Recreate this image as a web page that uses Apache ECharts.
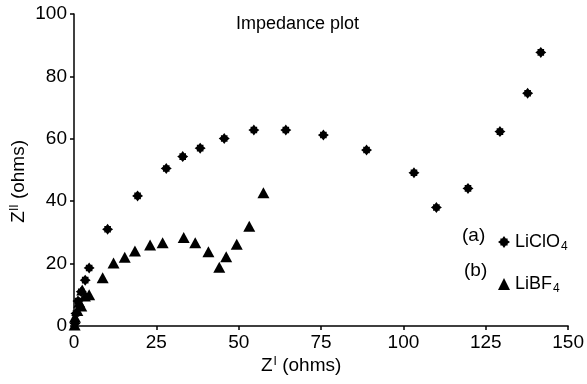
<!DOCTYPE html>
<html>
<head>
<meta charset="utf-8">
<script src="https://cdn.jsdelivr.net/npm/echarts@6/dist/echarts.min.js"></script>
<style>
  html, body { margin: 0; padding: 0; background: #fff; }
  #main { width: 587px; height: 384px; }
</style>
</head>
<body>
<div id="main"></div>
<script>
// (a) LiClO4 的点, Z' 和 Z''
const liclo4X = [0.3, 0.6, 1.2, 2.2, 3.4, 4.6, 10.2, 19.3, 28, 33, 38.3, 45.6, 54.6, 64.3, 75.7, 88.8, 103.2, 110, 119.6, 129.3, 137.7, 141.7];
const liclo4Y = [0.8, 4, 8, 11, 14.7, 18.6, 31, 41.7, 50.5, 54.3, 57, 60.1, 62.8, 62.8, 61.2, 56.4, 49.1, 38, 44.1, 62.3, 74.6, 87.7];

// (b) LiBF4 的点
const libf4X = [0.2, 0.3, 1.0, 1.6, 2.2, 2.5, 3.3, 4.6, 8.7, 12, 15.4, 18.5, 23.1, 26.9, 33.3, 36.8, 40.8, 44.1, 46.2, 49.4, 53.2, 57.5];
const libf4Y = [0.3, 2.8, 5, 7.6, 6.4, 11.5, 9.6, 10, 15.5, 20.2, 22, 24, 26, 26.7, 28.4, 26.7, 23.8, 18.8, 22.2, 26.2, 32, 42.7];

// 坐标轴刻度
const xTicks = [0, 25, 50, 75, 100, 125, 150];
const yTicks = [0, 20, 40, 60, 80, 100];

const FONT = 'Liberation Sans, Arial, sans-serif';
const starPath = 'path://M0,-5 L1.5,-3 L3,-3 L3,-1.5 L5,0 L3,1.5 L3,3 L1.5,3 L0,5 L-1.5,3 L-3,3 L-3,1.5 L-5,0 L-3,-1.5 L-3,-3 L-1.5,-3 Z';

const zip = (xs, ys) => xs.map((x, i) => [x, ys[i]]);

const myChart = echarts.init(document.getElementById('main'));

const axisCommon = {
  axisLine: { show: true, lineStyle: { color: '#000', width: 1.5 } },
  axisTick: { show: true, inside: false, length: 4, lineStyle: { color: '#000', width: 1.5 } },
  splitLine: { show: false },
  axisLabel: { color: '#000', fontSize: 19, fontFamily: FONT, margin: 7 }
};

myChart.setOption({
  animation: false,
  backgroundColor: '#fff',
  grid: { left: 74, right: 9, top: 14, bottom: 58, containLabel: false },
  xAxis: Object.assign({}, axisCommon, {
    type: 'value',
    min: xTicks[0],
    max: xTicks[xTicks.length - 1],
    interval: xTicks[1] - xTicks[0]
  }),
  yAxis: Object.assign({}, axisCommon, {
    type: 'value',
    min: yTicks[0],
    max: yTicks[yTicks.length - 1],
    interval: yTicks[1] - yTicks[0]
  }),
  legend: {
    orient: 'vertical',
    left: 493,
    top: 228,
    itemWidth: 12,
    itemHeight: 12,
    itemGap: 22,
    data: [
      { name: 'LiClO4', icon: starPath, itemStyle: { color: '#000', opacity: 1 } },
      { name: 'LiBF4', icon: 'triangle', itemStyle: { color: '#000', opacity: 1 } }
    ],
    formatter: function (name) {
      return '{n|' + name.slice(0, -1) + '}{s|4}';
    },
    textStyle: {
      color: '#000',
      rich: {
        n: { fontSize: 18, fontFamily: FONT, color: '#000', lineHeight: 22 },
        s: { fontSize: 12, fontFamily: FONT, color: '#000', verticalAlign: 'bottom', lineHeight: 22, padding: [8, 0, 0, 1] }
      }
    }
  },
  graphic: [
    {
      type: 'text', left: 9, top: 140, rotation: Math.PI / 2,
      style: {
        text: '{z|Z}{p|II}{z| (ohms)}',
        rich: {
          z: { fontSize: 19, fontFamily: FONT, fill: '#000' },
          p: { fontSize: 12, fontFamily: FONT, fill: '#000', padding: [0, 0, 8, 0] }
        }
      }
    },
    {
      type: 'text', left: 261, top: 356,
      style: {
        text: '{z|Z}{p|I}{z| (ohms)}',
        rich: {
          z: { fontSize: 19, fontFamily: FONT, fill: '#000' },
          p: { fontSize: 12, fontFamily: FONT, fill: '#000', padding: [0, 0, 8, 1] }
        }
      }
    },
    {
      type: 'text', left: 236, top: 15,
      style: { text: 'Impedance plot', fontSize: 18, fontFamily: FONT, fill: '#000' }
    },
    { type: 'text', left: 462, top: 226, style: { text: '(a)', fontSize: 19, fontFamily: FONT, fill: '#000' } },
    { type: 'text', left: 464, top: 261, style: { text: '(b)', fontSize: 19, fontFamily: FONT, fill: '#000' } }
  ],
  series: [
    {
      name: 'LiClO4',
      type: 'scatter',
      symbol: starPath,
      symbolSize: 11,
      itemStyle: { color: '#000', opacity: 1 },
      data: zip(liclo4X, liclo4Y)
    },
    {
      name: 'LiBF4',
      type: 'scatter',
      symbol: 'triangle',
      symbolSize: [12, 11],
      itemStyle: { color: '#000', opacity: 1 },
      data: zip(libf4X, libf4Y)
    }
  ]
});
</script>
</body>
</html>
